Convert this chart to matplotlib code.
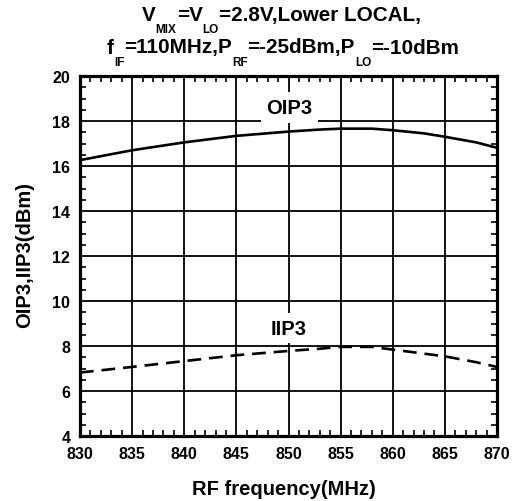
import numpy as np
import matplotlib.pyplot as plt
from matplotlib.ticker import MultipleLocator

plt.rcParams['font.family'] = ['Liberation Sans', 'DejaVu Sans']
plt.rcParams['font.weight'] = 'bold'

# values
freq = [830, 835, 840, 845, 850, 853, 855, 858, 860, 863, 865, 868, 870]
oip3 = [16.26, 16.70, 17.05, 17.34, 17.53, 17.62, 17.66, 17.66, 17.59, 17.45, 17.30, 17.05, 16.81]
iip3 = [6.82, 7.07, 7.33, 7.59, 7.78, 7.88, 7.96, 7.96, 7.84, 7.66, 7.54, 7.28, 7.07]

title1 = [('V', 0), ('MIX', 1), ('=V', 0), ('LO', 1), ('=2.8V,Lower LOCAL,', 0)]
title2 = [('f', 0), ('IF', 1), ('=110MHz,P', 0), ('RF', 1), ('=-25dBm,P', 0), ('LO', 1), ('=-10dBm', 0)]

W, H = 515, 502
fig = plt.figure(figsize=(W / 100, H / 100), dpi=100)
ax = fig.add_axes([80 / W, 1 - 437 / H, 417 / W, 360 / H])

ax.plot(freq, oip3, color='black', lw=1.9)
ax.plot(freq, iip3, color='black', lw=1.9, dashes=(5.2, 3.0))

ax.set_xlim(830, 870)
ax.set_ylim(4, 20)
ax.xaxis.set_major_locator(MultipleLocator(5))
ax.xaxis.set_minor_locator(MultipleLocator(1))
ax.yaxis.set_major_locator(MultipleLocator(2))
ax.yaxis.set_minor_locator(MultipleLocator(0.5))
ax.grid(True, which='major', color='black', lw=1.3)
ax.tick_params(which='both', direction='in', top=True, right=True, labelsize=11.5, width=1.2)
ax.tick_params(which='major', length=0, pad=7)
ax.tick_params(which='minor', length=4)
for s in ax.spines.values():
    s.set_linewidth(2.3)
for lbl in ax.get_xticklabels() + ax.get_yticklabels():
    lbl.set_fontweight('bold')

box = dict(facecolor='white', edgecolor='none', pad=4)
ax.text(850.1, 18.36, 'OIP3', ha='center', va='baseline', fontsize=14.5, fontweight='bold', bbox=box)
ax.text(850.0, 8.55, 'IIP3', ha='center', va='baseline', fontsize=14.5, fontweight='bold', bbox=box)

ax.set_xlabel('RF frequency(MHz)', fontsize=14.5, fontweight='bold', va='baseline')
ax.xaxis.set_label_coords(0.49, -0.161)
ax.set_ylabel('OIP3,IIP3(dBm)', fontsize=14.5, fontweight='bold', va='center')
ax.yaxis.set_label_coords(-0.132, 0.506)

# title with subscripts, drawn piece by piece
renderer = fig.canvas.get_renderer()


def draw_line(parts, x0, base, sub_drop):
    x = x0
    for txt, sub in parts:
        y = base + sub_drop if sub else base
        t = fig.text(x / W, 1 - y / H, txt, fontsize=8.5 if sub else 14.9,
                     fontweight='bold', ha='left', va='baseline')
        x += t.get_window_extent(renderer).width


draw_line(title1, 142, 21, 12.5)
draw_line(title2, 107, 53.5, 13)

fig.savefig('out.png', dpi=100)
